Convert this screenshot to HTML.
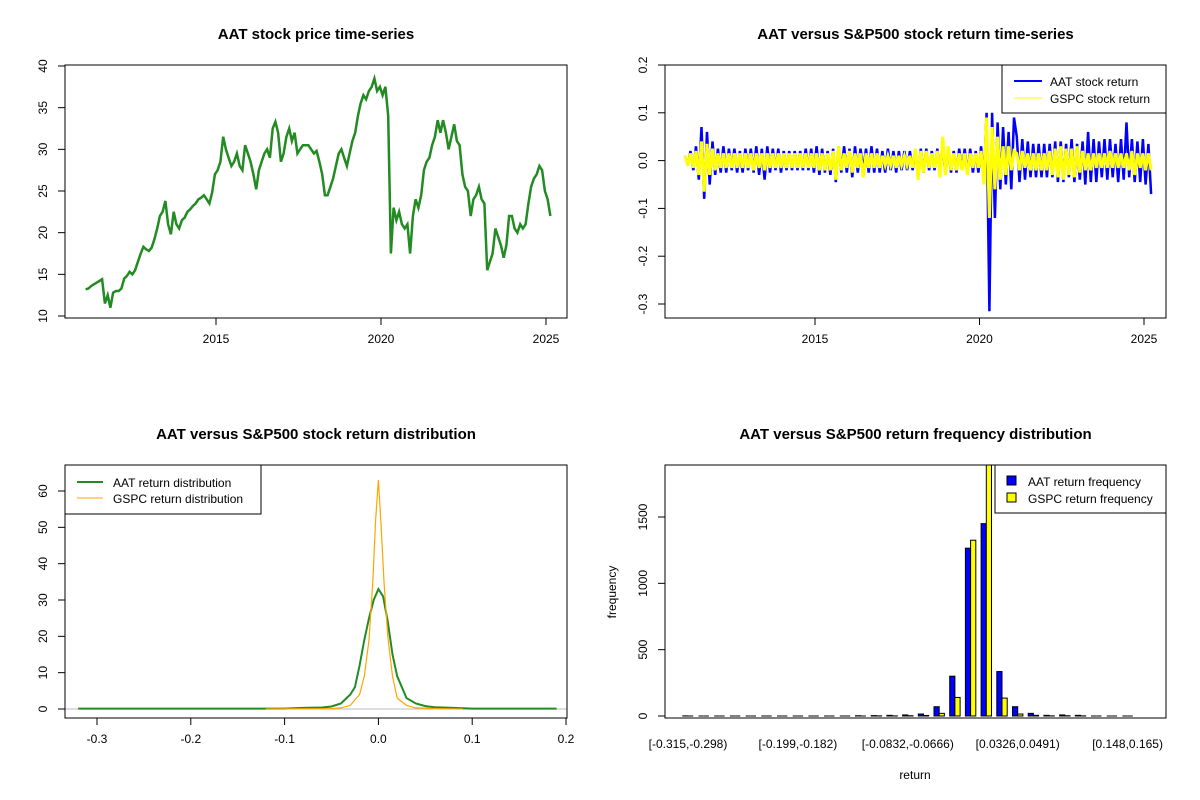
<!DOCTYPE html>
<html><head><meta charset="utf-8"><style>
body{margin:0;background:#fff}
svg{display:block;font-family:"Liberation Sans",Arial,sans-serif}
</style></head><body>
<svg id="chart" width="1200" height="800" viewBox="0 0 1200 800" xmlns="http://www.w3.org/2000/svg"></svg>
<script>
// ---------- data ----------
const priceStart = 2011.05, priceStep = 1/12;
const aatPrice = [13.2,13.3,13.6,13.8,14.0,14.2,14.4,11.5,12.5,11.0,12.8,13.0,
13.0,13.3,14.5,14.8,15.3,15.0,15.5,16.5,17.5,18.3,18.0,17.8,
18.2,19.2,20.5,22.0,22.5,23.8,21.0,19.8,22.5,21.0,20.5,21.5,
21.8,22.5,22.8,23.2,23.5,24.0,24.2,24.5,24.0,23.5,24.8,27.0,
27.5,28.5,31.5,30.0,29.0,28.0,28.5,29.5,28.0,27.5,30.5,29.5,
28.5,27.0,25.2,27.5,28.5,29.5,30.0,29.0,32.5,33.3,32.0,28.5,
29.5,31.5,32.5,31.0,32.0,29.5,30.0,30.5,30.5,30.5,30.0,29.5,
29.8,28.5,27.0,24.5,24.5,25.5,26.5,28.0,29.5,30.0,29.0,28.0,
29.5,31.0,32.0,34.0,35.5,36.5,36.0,37.0,37.5,38.5,37.0,37.5,
36.5,37.5,34.0,17.5,23.0,21.5,22.5,21.0,20.5,21.0,17.5,22.0,
24.0,23.0,24.5,27.5,28.5,29.0,30.5,31.5,33.5,32.0,33.5,32.0,
30.0,31.5,33.0,31.0,30.5,27.0,25.5,25.0,22.0,24.0,24.5,25.5,
24.0,23.5,15.5,16.5,17.5,20.5,19.5,18.5,17.0,18.5,22.0,22.0,
20.5,20.0,21.0,20.5,21.0,23.5,25.5,26.5,27.0,28.0,27.5,25.0,
24.0,22.0];
const aatRet = [.01,-.01,.02,-.02,.03,-.04,.07,-.08,.06,-.05,.04,-.03,
.025,-.025,.03,-.025,.025,-.02,.025,-.025,.02,-.025,.025,-.02,
.025,-.025,.03,-.03,.025,-.04,.03,-.025,.025,-.02,.025,-.025,
.02,-.02,.02,-.02,.02,-.02,.02,-.02,.025,-.02,.025,-.025,
.03,-.03,.025,-.025,.02,-.03,.025,-.045,.03,-.025,.03,-.025,
.025,-.035,.03,-.025,.025,-.02,.025,-.025,.03,-.025,.025,-.025,
.02,-.025,.025,-.02,.02,-.025,.02,-.02,.02,-.02,.02,-.02,
.02,-.035,.025,-.025,.025,-.02,.02,-.02,.025,-.025,.03,-.03,
.025,-.025,.02,-.025,.025,-.02,.025,-.03,.025,-.025,.02,-.025,
.03,-.04,.1,-.315,.1,-.12,.08,-.06,.07,-.05,.06,-.06,.09,
.05,-.045,.045,-.04,.04,-.035,.035,-.035,.035,-.035,.035,-.035,
.035,-.035,.04,-.045,.04,-.045,.035,-.035,.045,-.045,.035,-.04,
.04,-.05,.06,-.045,.045,-.045,.04,-.035,.045,-.04,.045,-.035,
.035,-.045,.045,-.04,.08,-.035,.045,-.045,.04,-.045,.045,-.05,
.035,-.07];
const gspcRet = [.01,-.01,.015,-.015,.02,-.03,.04,-.065,.035,-.03,.025,-.02,
.015,-.015,.015,-.015,.015,-.015,.015,-.015,.015,-.015,.015,-.015,
.015,-.02,.015,-.015,.015,-.02,.015,-.015,.015,-.015,.015,-.015,
.015,-.015,.015,-.015,.015,-.015,.015,-.015,.015,-.015,.015,-.015,
.015,-.02,.015,-.02,.015,-.02,.02,-.04,.03,-.02,.015,-.015,
.02,-.025,.015,-.015,.015,-.035,.015,-.015,.015,-.015,.015,-.015,
.01,-.01,.01,-.01,.01,-.015,.01,-.01,.01,-.01,.01,-.015,
.025,-.04,.02,-.025,.02,-.015,.015,-.015,.02,-.035,.05,-.03,
.03,-.02,.015,-.02,.015,-.02,.015,-.03,.015,-.015,.015,-.015,
.02,-.05,.09,-.12,.07,-.06,.05,-.04,.03,-.03,.03,-.02,.02,
.015,-.02,.02,-.015,.015,-.02,.015,-.02,.015,-.02,.015,-.02,
.02,-.03,.025,-.035,.03,-.04,.025,-.03,.025,-.035,.03,-.025,
.02,-.02,.015,-.02,.015,-.015,.015,-.015,.015,-.015,.02,-.015,
.015,-.015,.015,-.015,.015,-.02,.02,-.03,.015,-.015,.015,-.02,
.015,-.02];
const densX = [-0.32,-0.1,-0.08,-0.06,-0.05,-0.04,-0.03,-0.025,-0.02,-0.015,-0.01,-0.005,0,0.005,0.01,0.015,0.02,0.025,0.03,0.04,0.05,0.06,0.08,0.1,0.19];
const aatDens = [0.1,0.1,0.3,0.4,0.7,1.5,4,6,12,19,25,30,33,31,24,15,9,6,3,1.5,0.8,0.5,0.3,0.1,0.1];
const gspcDensX = [-0.12,-0.05,-0.04,-0.03,-0.02,-0.015,-0.01,-0.006,-0.003,0,0.003,0.006,0.01,0.015,0.02,0.03,0.04,0.06,0.09];
const gspcDens = [0,0.1,0.3,1,4,9,19,35,52,63,50,35,20,9,3,1,0.3,0.1,0];
const binLabels = ["[-0.315,-0.298)","[-0.199,-0.182)","[-0.0832,-0.0666)","[0.0326,0.0491)","[0.148,0.165)"];
const binLabelIdx = [0,7,14,21,28];
const aatFreq = [1,0,0,0,0,0,0,0,0,0,0,2,3,5,8,15,70,300,1265,1450,335,70,20,5,8,5,0,0,0];
const gspcFreq = [0,0,0,0,0,0,0,0,0,0,0,0,1,1,2,4,20,140,1325,1950,135,15,5,1,2,1,0,0,0];

// ---------- helpers ----------
const S = document.getElementById('chart');
const NS = 'http://www.w3.org/2000/svg';
function mk(tag, attrs, parent){const e=document.createElementNS(NS,tag);for(const k in attrs)e.setAttribute(k,attrs[k]);(parent||S).appendChild(e);return e;}
function txt(x,y,s,attrs,parent){const e=mk('text',Object.assign({x:x,y:y,'font-size':12,fill:'#000','text-anchor':'middle'},attrs||{}),parent);e.textContent=s;return e;}
function lin(d0,d1,r0,r1){return v=>r0+(v-d0)*(r1-r0)/(d1-d0);}

function panel(name,box,title){
  const g=mk('g',{});
  
  
  const t=txt((box[0]+box[2])/2,box[1]-26,title,{'font-size':15,'font-weight':'bold'},g);
  
  
  const cp=mk('clipPath',{id:'clip-'+name},g);
  mk('rect',{x:box[0],y:box[1],width:box[2]-box[0],height:box[3]-box[1]},cp);
  return g;
}
function frame(g,box,name){
  const r=mk('rect',{x:box[0],y:box[1],width:box[2]-box[0],height:box[3]-box[1],fill:'none',stroke:'#000','stroke-width':1},g);
  
  
}
function xAxis(g,box,vals,labels,sx,name){
  const a=mk('g',{},g);
  
  
  const y=box[3];
  vals.forEach((v,i)=>{mk('line',{x1:sx(v),x2:sx(v),y1:y,y2:y+7,stroke:'#000'},a);txt(sx(v),y+25,labels[i],{},a);});
}
function yAxis(g,box,vals,labels,sy,name){
  const a=mk('g',{},g);
  
  
  const x=box[0];
  vals.forEach((v,i)=>{mk('line',{x1:x-7,x2:x,y1:sy(v),y2:sy(v),stroke:'#000'},a);
    txt(x-18,sy(v),labels[i],{transform:`rotate(-90 ${x-18} ${sy(v)})`},a);});
}
function pathOf(xs,ys,sx,sy){return xs.map((x,i)=>(i?'L':'M')+sx(x).toFixed(1)+','+sy(ys[i]).toFixed(1)).join('');}

// ---------- panel 1: price ----------
{
  const box=[65,65,567,318];
  const g=panel('price-panel',box,'AAT stock price time-series');
  const sx=lin(2015,2020,216,381), sy=lin(10,40,316,66);
  const xs=aatPrice.map((_,i)=>priceStart+i*priceStep);
  const p=mk('path',{d:pathOf(xs,aatPrice,sx,sy),fill:'none',stroke:'#228B22','stroke-width':2.5},g);
  
  
  frame(g,box,'price');
  xAxis(g,box,[2015,2020,2025],['2015','2020','2025'],sx,'price');
  yAxis(g,box,[10,15,20,25,30,35,40],['10','15','20','25','30','35','40'],sy,'price');
}
// ---------- panel 2: returns ----------
{
  const box=[665,65,1166,318];
  const g=panel('returns-panel',box,'AAT versus S&P500 stock return time-series');
  const sx=lin(2015,2025,815,1144), sy=lin(-0.3,0.2,304,65);
  const xs=aatRet.map((_,i)=>priceStart+i*priceStep);
  const p=mk('path',{d:pathOf(xs,aatRet,sx,sy),fill:'none',stroke:'#0000FF','stroke-width':2.5},g);
  
  
  const xs2=gspcRet.map((_,i)=>priceStart+i*priceStep);
  const q=mk('path',{d:pathOf(xs2,gspcRet,sx,sy),fill:'none',stroke:'#FFFF00','stroke-width':3},g);
  
  
  frame(g,box,'returns');
  xAxis(g,box,[2015,2020,2025],['2015','2020','2025'],sx,'returns');
  yAxis(g,box,[-0.3,-0.2,-0.1,0,0.1,0.2],['-0.3','-0.2','-0.1','0.0','0.1','0.2'],sy,'returns');
  const lg=mk('g',{},g);
  
  
  mk('rect',{x:1002,y:65,width:164,height:48,fill:'#fff',stroke:'#000'},lg);
  mk('line',{x1:1014,x2:1042,y1:81,y2:81,stroke:'#0000FF','stroke-width':2},lg);
  mk('line',{x1:1014,x2:1042,y1:98,y2:98,stroke:'#FFFF00','stroke-width':1},lg);
  txt(1050,86,'AAT stock return',{'text-anchor':'start'},lg);
  txt(1050,103,'GSPC stock return',{'text-anchor':'start'},lg);
}
// ---------- panel 3: density ----------
{
  const box=[65,465,567,718];
  const g=panel('density-panel',box,'AAT versus S&P500 stock return distribution');
  const sx=lin(-0.3,0.2,97,566), sy=lin(0,60,709,491);
  mk('line',{x1:box[0],x2:box[2],y1:sy(0),y2:sy(0),stroke:'#bbb'},g);
  const p=mk('path',{d:pathOf(densX,aatDens,sx,sy),fill:'none',stroke:'#228B22','stroke-width':2},g);
  
  
  const q=mk('path',{d:pathOf(gspcDensX,gspcDens,sx,sy),fill:'none',stroke:'#FFA500','stroke-width':1.2},g);
  
  
  frame(g,box,'density');
  xAxis(g,box,[-0.3,-0.2,-0.1,0,0.1,0.2],['-0.3','-0.2','-0.1','0.0','0.1','0.2'],sx,'density');
  yAxis(g,box,[0,10,20,30,40,50,60],['0','10','20','30','40','50','60'],sy,'density');
  const lg=mk('g',{},g);
  
  
  mk('rect',{x:65,y:465,width:196,height:49,fill:'#fff',stroke:'#000'},lg);
  mk('line',{x1:77,x2:103,y1:482,y2:482,stroke:'#228B22','stroke-width':2},lg);
  mk('line',{x1:77,x2:103,y1:498,y2:498,stroke:'#FFA500','stroke-width':1},lg);
  txt(113,487,'AAT return distribution',{'text-anchor':'start'},lg);
  txt(113,503,'GSPC return distribution',{'text-anchor':'start'},lg);
}
// ---------- panel 4: histogram ----------
{
  const box=[665,465,1166,718];
  const g=panel('frequency-panel',box,'AAT versus S&P500 return frequency distribution');
  const sy=lin(0,1500,716,517);
  const bx=i=>688+i*15.7; // group centre
  const bw=5.2;
  const bars=mk('g',{'clip-path':'url(#clip-frequency-panel)'},g);
  
  
  function bar(x,v,fill,name){
    let r;
    if(v<=0){ r=mk('line',{x1:x,x2:x+bw,y1:sy(0),y2:sy(0),stroke:'#000','stroke-width':1},bars); }
    else { r=mk('rect',{x:x,y:sy(v),width:bw,height:sy(0)-sy(v),fill:fill,stroke:'#000','stroke-width':1},bars); }
    
    
  }
  aatFreq.forEach((v,i)=>bar(bx(i)-bw,v,'#0000FF','aat-bar'));
  gspcFreq.forEach((v,i)=>bar(bx(i),v,'#FFFF00','gspc-bar'));
  frame(g,box,'frequency');
  const xa=mk('g',{},g);
  
  
  binLabelIdx.forEach((b,i)=>txt(bx(b),748,binLabels[i],{},xa));
  yAxis(g,box,[0,500,1000,1500],['0','500','1000','1500'],sy,'frequency');
  const xt=txt(915,779,'return',{});
  
  
  const yt=txt(616,592,'frequency',{transform:'rotate(-90 616 592)'});
  
  
  const lg=mk('g',{},g);
  
  
  mk('rect',{x:995,y:465,width:171,height:48,fill:'#fff',stroke:'#000'},lg);
  mk('rect',{x:1007,y:476,width:9,height:9,fill:'#0000FF',stroke:'#000'},lg);
  mk('rect',{x:1007,y:493,width:9,height:9,fill:'#FFFF00',stroke:'#000'},lg);
  txt(1028,486,'AAT return frequency',{'text-anchor':'start'},lg);
  txt(1028,503,'GSPC return frequency',{'text-anchor':'start'},lg);
}
</script>
</body></html>
